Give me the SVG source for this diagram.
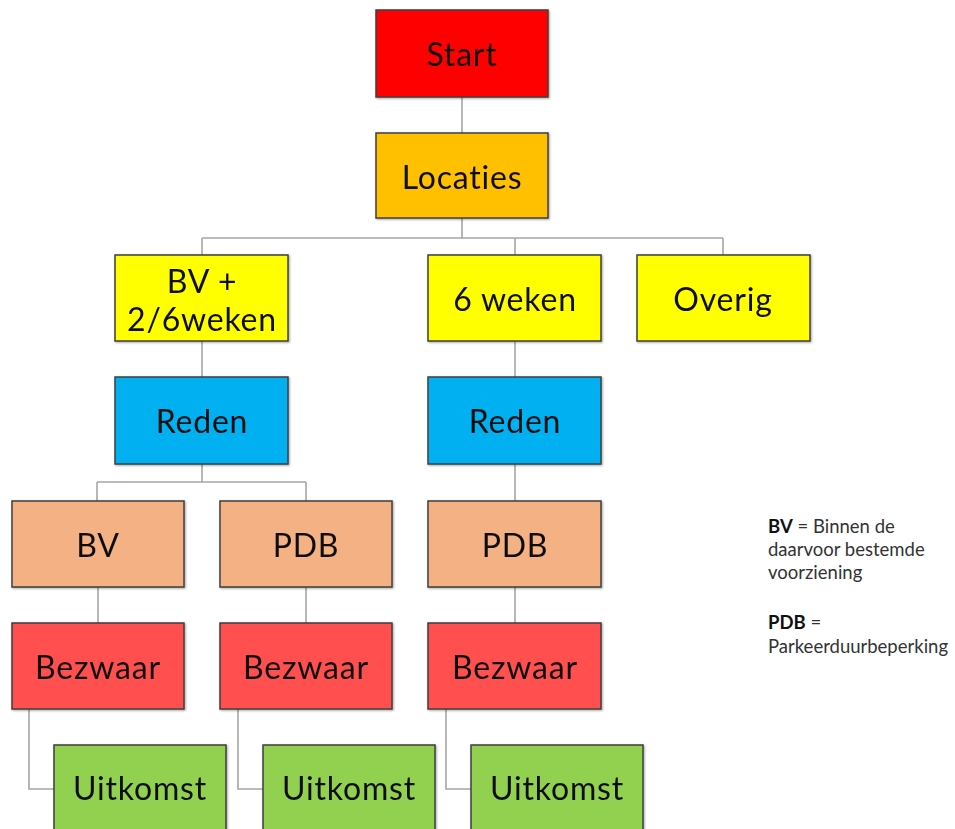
<svg xmlns="http://www.w3.org/2000/svg" width="955" height="829" viewBox="0 0 955 829">
  <style>
    text { font-variant-ligatures: none; font-feature-settings: "liga" 0; }
    .box { stroke: #3f3f3f; stroke-width: 1.5; }
    .lbl { font-family: Lato, "Open Sans", "Liberation Sans", sans-serif; font-size: 32px; letter-spacing: 0.8px; fill: #111; text-anchor: middle; }
    .wire { fill: none; stroke: #a6a6a6; stroke-width: 1.6; }
    .note { font-family: Lato, "Open Sans", "Liberation Sans", sans-serif; font-size: 18.5px; fill: #333; }
    .red { fill: #ff0000; } .orange { fill: #ffc000; } .yellow { fill: #ffff00; }
    .blue { fill: #00b0f0; } .peach { fill: #f4b183; } .rose { fill: #ff5050; } .green { fill: #92d050; }
  </style>
  <defs>
    <filter id="shadow" x="-5%" y="-5%" width="112%" height="115%">
      <feDropShadow dx="1" dy="1" stdDeviation="0.8" flood-color="#000" flood-opacity="0.35"/>
    </filter>
  </defs>
  <rect width="955" height="829" fill="#fff"/>

  <g id="connectors">
    <path class="wire" d="M462 97 V133"/>
    <path class="wire" d="M462 218 V238 M202 238 H723 M202 238 V255 M515 238 V255 M723 238 V255"/>
    <path class="wire" d="M202 341 V377"/>
    <path class="wire" d="M515 341 V377"/>
    <path class="wire" d="M202 464 V482 M97 482 H306 M97 482 V501 M306 482 V501"/>
    <path class="wire" d="M515 464 V501"/>
    <path class="wire" d="M98 587 V623"/>
    <path class="wire" d="M306 587 V623"/>
    <path class="wire" d="M515 587 V623"/>
    <path class="wire" d="M29 709 V789 H54"/>
    <path class="wire" d="M238 709 V789 H263"/>
    <path class="wire" d="M446 709 V789 H471"/>
  </g>

  <g id="start" filter="url(#shadow)"><rect class="box red" x="376" y="10" width="172" height="87"/><text class="lbl" x="462" y="66">Start</text></g>
  <g id="locaties" filter="url(#shadow)"><rect class="box orange" x="376" y="133" width="172" height="85"/><text class="lbl" x="462" y="189">Locaties</text></g>

  <g id="bv-weken" filter="url(#shadow)"><rect class="box yellow" x="115" y="255" width="173" height="86"/><text class="lbl" x="202" y="293">BV +</text><text class="lbl" x="202" y="331">2/6weken</text></g>
  <g id="zes-weken" filter="url(#shadow)"><rect class="box yellow" x="428" y="255" width="173" height="86"/><text class="lbl" x="515" y="311">6 weken</text></g>
  <g id="overig" filter="url(#shadow)"><rect class="box yellow" x="637" y="255" width="173" height="86"/><text class="lbl" x="723" y="311">Overig</text></g>

  <g id="reden-1" filter="url(#shadow)"><rect class="box blue" x="115" y="377" width="173" height="87"/><text class="lbl" x="202" y="433">Reden</text></g>
  <g id="reden-2" filter="url(#shadow)"><rect class="box blue" x="428" y="377" width="173" height="87"/><text class="lbl" x="515" y="433">Reden</text></g>

  <g id="bv" filter="url(#shadow)"><rect class="box peach" x="12" y="501" width="172" height="86"/><text class="lbl" x="98" y="557">BV</text></g>
  <g id="pdb-1" filter="url(#shadow)"><rect class="box peach" x="220" y="501" width="172" height="86"/><text class="lbl" x="306" y="557">PDB</text></g>
  <g id="pdb-2" filter="url(#shadow)"><rect class="box peach" x="428" y="501" width="173" height="86"/><text class="lbl" x="515" y="557">PDB</text></g>

  <g id="bezwaar-1" filter="url(#shadow)"><rect class="box rose" x="12" y="623" width="172" height="86"/><text class="lbl" x="98" y="679">Bezwaar</text></g>
  <g id="bezwaar-2" filter="url(#shadow)"><rect class="box rose" x="220" y="623" width="172" height="86"/><text class="lbl" x="306" y="679">Bezwaar</text></g>
  <g id="bezwaar-3" filter="url(#shadow)"><rect class="box rose" x="428" y="623" width="173" height="86"/><text class="lbl" x="515" y="679">Bezwaar</text></g>

  <g id="uitkomst-1" filter="url(#shadow)"><rect class="box green" x="54" y="745" width="172" height="90"/><text class="lbl" x="140" y="800">Uitkomst</text></g>
  <g id="uitkomst-2" filter="url(#shadow)"><rect class="box green" x="263" y="745" width="172" height="90"/><text class="lbl" x="349" y="800">Uitkomst</text></g>
  <g id="uitkomst-3" filter="url(#shadow)"><rect class="box green" x="471" y="745" width="172" height="90"/><text class="lbl" x="557" y="800">Uitkomst</text></g>

  <g id="legend">
    <text class="note" x="768" y="533"><tspan font-weight="bold" fill="#111">BV</tspan> = Binnen de</text>
    <text class="note" x="768" y="556">daarvoor bestemde</text>
    <text class="note" x="768" y="579">voorziening</text>
    <text class="note" x="768" y="629"><tspan font-weight="bold" fill="#111">PDB</tspan> =</text>
    <text class="note" x="768" y="653">Parkeerduurbeperking</text>
  </g>
</svg>
